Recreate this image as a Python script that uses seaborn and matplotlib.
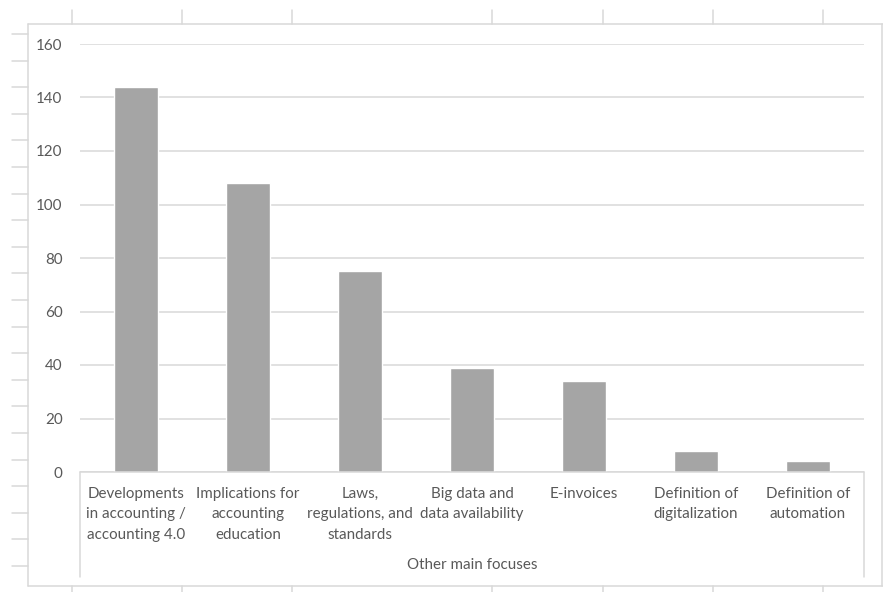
import matplotlib
matplotlib.use("Agg")
import matplotlib.pyplot as plt
from matplotlib.lines import Line2D
import seaborn as sns
import pandas as pd

# Data
categories = [
    "Developments\nin accounting /\naccounting 4.0",
    "Implications for\naccounting\neducation",
    "Laws,\nregulations, and\nstandards",
    "Big data and\ndata availability",
    "E-invoices",
    "Definition of\ndigitalization",
    "Definition of\nautomation",
]
counts = [144, 108, 75, 39, 34, 8, 4]
y_ticks = [0, 20, 40, 60, 80, 100, 120, 140, 160]
group_label = "Other main focuses"

W, H = 883, 592
sns.set_theme(style="white")
plt.rcParams["font.family"] = ["Lato", "DejaVu Sans"]

fig = plt.figure(figsize=(W / 100, H / 100), dpi=100)
fig.patch.set_facecolor("white")

# Plot area in pixel coordinates
px_left, px_right = 80, 864
px_top, px_zero = 44, 472
ax = fig.add_axes([px_left / W, (H - px_zero) / H,
                   (px_right - px_left) / W, (px_zero - px_top) / H])

df = pd.DataFrame({"focus": categories, "count": counts})
sns.barplot(data=df, x="focus", y="count", color="#A5A5A5", width=0.4,
            saturation=1, ax=ax, zorder=3)

ax.set_ylim(0, 160)
ax.set_xlim(-0.5, len(categories) - 0.5)
ax.set_yticks(y_ticks)
ax.set_xlabel("")
ax.set_ylabel("")
for s in ax.spines.values():
    s.set_visible(False)
ax.grid(axis="y", color="#D9D9D9", linewidth=1.1, zorder=0)
ax.set_axisbelow(True)

text_color = "#595959"
fs = 10.9
ax.tick_params(axis="y", length=0, pad=12.5, labelsize=fs, labelcolor=text_color)
ax.tick_params(axis="x", length=0, pad=10.5, labelsize=fs, labelcolor=text_color)
for lbl in ax.get_xticklabels():
    lbl.set_linespacing(1.62)
    lbl.set_multialignment("center")

# Group label under the category labels
fig.text((px_left + px_right) / 2 / W, 1 - 565 / H, group_label,
         ha="center", va="center", fontsize=fs, color=text_color)

line_c = "#D9D9D9"


def hline(y, x0, x1, lw=1.1):
    fig.add_artist(Line2D([x0 / W, x1 / W], [1 - y / H, 1 - y / H],
                          color=line_c, lw=lw, transform=fig.transFigure))


def vline(x, y0, y1, lw=1.1):
    fig.add_artist(Line2D([x / W, x / W], [1 - y0 / H, 1 - y1 / H],
                          color=line_c, lw=lw, transform=fig.transFigure))


# Category axis box
hline(px_zero, px_left, px_right)
vline(px_left, px_zero, 577)
vline(px_right, px_zero, 577)

# Chart area border
hline(24, 28, 883)
hline(586, 28, 883)
vline(28, 24, 586)
vline(882, 24, 586)

# Sheet grid marks around the chart
for x in [72, 182, 292, 492, 603, 713, 823]:
    vline(x, 10, 24)
    vline(x, 586, 592)
k = 0
while 34 + 26.6 * k <= 567:
    hline(34 + 26.6 * k, 12, 28)
    k += 1

fig.savefig("out.png", dpi=100, facecolor="white")
